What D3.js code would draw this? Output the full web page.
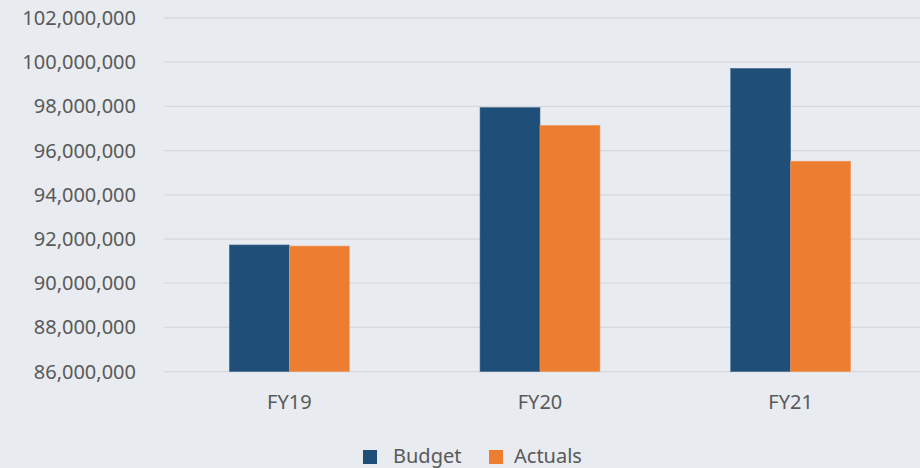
<!DOCTYPE html>
<html>
<head>
<meta charset="utf-8">
<script src="https://cdn.jsdelivr.net/npm/d3@7"></script>
<style>
  html, body { margin: 0; padding: 0; background: #e8ebf0; }
  svg { display: block; font-family: "Noto Sans", "Open Sans", sans-serif; }
</style>
</head>
<body>
<svg id="chart" width="920" height="468"></svg>
<script>
// Budget vs actuals per fiscal year
const categories = ['FY19', 'FY20', 'FY21'];
const seriesNames = ['Budget', 'Actuals'];
const budget = [91730000, 97950000, 99720000];
const actuals = [91680000, 97140000, 95520000];
const yTicks = [86000000, 88000000, 90000000, 92000000, 94000000, 96000000, 98000000, 100000000, 102000000];

const colors = ['#1f4e79', '#ed7d31'];
const textColor = '#595959';

const svg = d3.select('#chart');
const width = 920;
const height = 468;
const margin = { top: 18, right: 4, bottom: 96, left: 164 };

const x = d3.scaleBand()
    .domain(categories)
    .range([margin.left, width - margin.right])
    .paddingInner(0)
    .paddingOuter(0);

const inner = d3.scaleBand()
    .domain(seriesNames)
    .range([0, x.bandwidth()])
    .paddingOuter(1.09)
    .paddingInner(0);

const y = d3.scaleLinear()
    .domain([86000000, 102000000])
    .range([height - margin.bottom - 0.4, margin.top]);

// gridlines
svg.append('g')
    .selectAll('line')
    .data(yTicks)
    .join('line')
    .attr('x1', margin.left)
    .attr('x2', width)
    .attr('y1', d => y(d))
    .attr('y2', d => y(d))
    .attr('stroke', '#d6d8dc')
    .attr('stroke-width', 1.3);

// y labels
const fmt = d3.format(',');
svg.append('g')
    .selectAll('text')
    .data(yTicks)
    .join('text')
    .attr('x', 136)
    .attr('y', d => y(d))
    .attr('dy', '0.35em')
    .attr('text-anchor', 'end')
    .attr('fill', textColor)
    .attr('font-size', 20)
    .text(d => fmt(d));

// bars
const rows = categories.map((c, i) => ({ cat: c, values: [budget[i], actuals[i]] }));
const groups = svg.append('g')
    .selectAll('g')
    .data(rows)
    .join('g')
    .attr('transform', d => `translate(${x(d.cat)},0)`);

groups.selectAll('rect')
    .data(d => d.values.map((v, j) => ({ name: seriesNames[j], value: v, j })))
    .join('rect')
    .attr('x', d => inner(d.name))
    .attr('width', inner.bandwidth())
    .attr('y', d => y(d.value))
    .attr('height', d => y(86000000) - y(d.value))
    .attr('fill', d => colors[d.j])
    .attr('stroke', d => d.j === 0 ? '#4a6f94' : '#f19a5e')
    .attr('stroke-width', 0.6);

// x labels
svg.append('g')
    .selectAll('text')
    .data(categories)
    .join('text')
    .attr('x', d => x(d) + x.bandwidth() / 2)
    .attr('y', 409)
    .attr('text-anchor', 'middle')
    .attr('fill', textColor)
    .attr('font-size', 20)
    .text(d => d);

// legend
const legendX = [363, 489];
const legendTextX = [393, 514];
const legend = svg.append('g')
    .selectAll('g')
    .data(seriesNames)
    .join('g');

legend.append('rect')
    .attr('x', (d, i) => legendX[i])
    .attr('y', 450)
    .attr('width', 14)
    .attr('height', 14)
    .attr('fill', (d, i) => colors[i]);

legend.append('text')
    .attr('x', (d, i) => legendTextX[i])
    .attr('y', 463)
    .attr('fill', textColor)
    .attr('font-size', 20)
    .text(d => d);
</script>
</body>
</html>
